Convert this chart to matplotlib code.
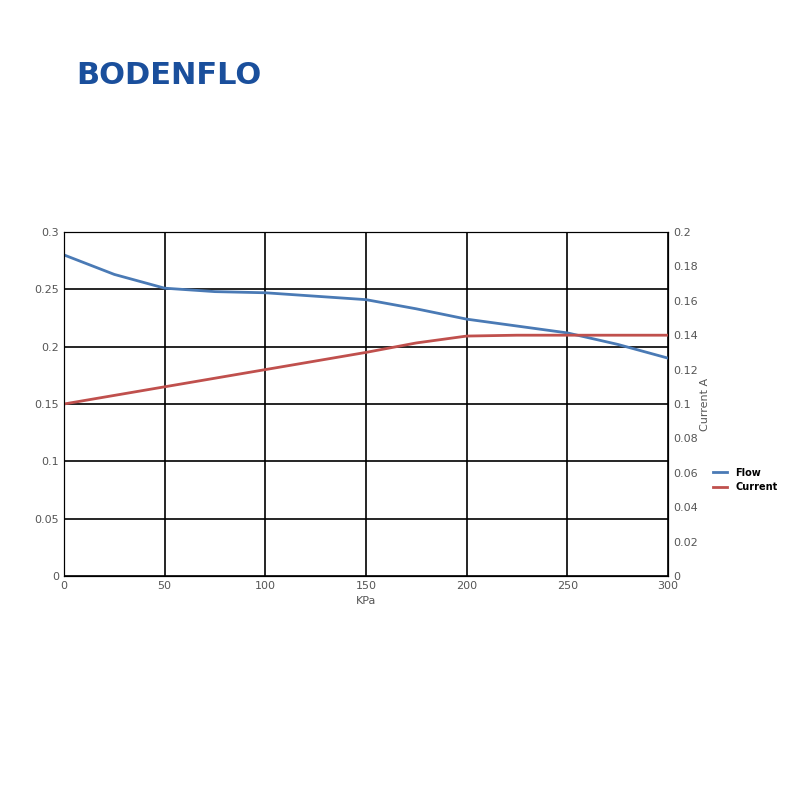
import matplotlib
matplotlib.use("Agg")
import matplotlib.pyplot as plt

kpa = [0, 25, 50, 75, 100, 125, 150, 175, 200, 225, 250, 275, 300]
flow = [0.28, 0.263, 0.251, 0.248, 0.247, 0.244, 0.241, 0.233, 0.224, 0.218, 0.212, 0.202, 0.19]
current = [0.1, 0.105, 0.11, 0.115, 0.12, 0.125, 0.13, 0.1355, 0.1395, 0.14, 0.14, 0.14, 0.14]

fig = plt.figure(figsize=(8, 8), dpi=100)
fig.text(0.095, 0.905, "BODENFLO", fontsize=22, fontweight="bold", color="#1a4f9c", va="center")
ax = fig.add_axes([0.08, 0.28, 0.755, 0.43])
ax2 = ax.twinx()
ax.plot(kpa, flow, color="#4a7ab5", lw=2, label="Flow")
ax2.plot(kpa, current, color="#c0504d", lw=2, label="Current")
ax.set_xlim(0, 300); ax.set_ylim(0, 0.3)
ax2.set_ylim(0, 0.2)
ax.set_xticks(range(0, 301, 50))
ax.set_yticks([0, 0.05, 0.1, 0.15, 0.2, 0.25, 0.3])
ax.set_yticklabels(["0", "0.05", "0.1", "0.15", "0.2", "0.25", "0.3"])
ax2.set_yticks([i * 0.02 for i in range(11)])
ax2.set_yticklabels(["0"] + [f"{i*0.02:.2f}".rstrip("0").rstrip(".") for i in range(1, 11)])
ax.grid(True, color="black", lw=1.2)
for a in (ax, ax2):
    a.tick_params(length=0, labelsize=8, colors="#555555")
    for s in a.spines.values():
        s.set_color("black")
ax.set_xlabel("KPa", fontsize=8, color="#555555")
ax2.set_ylabel("Current A", fontsize=8, color="#555555", labelpad=2)
fig.legend(handles=[ax.lines[0], ax2.lines[0]], loc="center left",
           bbox_to_anchor=(0.88, 0.40), frameon=False, handlelength=1.5,
           prop={"size": 7, "weight": "bold"})
fig.savefig("out.png")
